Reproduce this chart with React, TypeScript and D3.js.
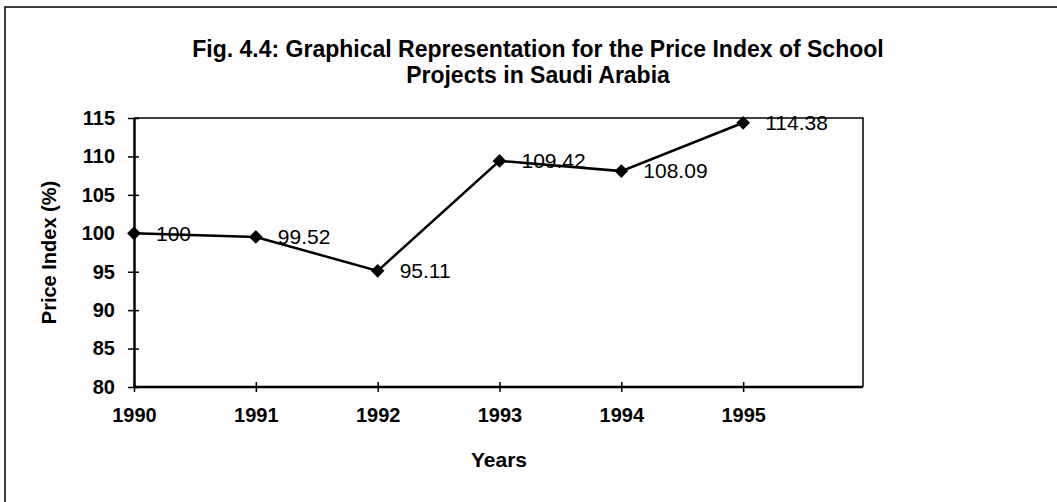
import React, { useRef, useEffect } from 'react';
import * as d3 from 'd3';

const years = [1990, 1991, 1992, 1993, 1994, 1995];
const priceIndex = [100, 99.52, 95.11, 109.42, 108.09, 114.38];
const valueLabels = ['100', '99.52', '95.11', '109.42', '108.09', '114.38'];
const yTicks = [80, 85, 90, 95, 100, 105, 110, 115];
const titleLines = [
  'Fig. 4.4: Graphical Representation for the Price Index of School',
  'Projects in Saudi Arabia',
];

const W = 1057;
const H = 502;
const FONT = '"Liberation Sans", Arial, sans-serif';

const App = () => {
  const svgRef = useRef<SVGSVGElement>(null);

  useEffect(() => {
    const svg = d3.select(svgRef.current);
    svg.selectAll('*').remove();

    const left = 134;
    const right = 863;
    const top = 118;
    const bottom = 387;

    const x = d3.scaleLinear().domain([1990, 1996]).range([left, right + 2]);
    const y = d3.scaleLinear().domain([80, 115]).range([bottom, top]);

    // outer chart border (only left and top survive in the scan)
    svg.append('path')
      .attr('d', `M5,${H} L5,7 L${W},7`)
      .attr('fill', 'none')
      .attr('stroke', '#000')
      .attr('stroke-width', 1.5);

    // title
    svg.append('g')
      .selectAll('text')
      .data(titleLines)
      .join('text')
      .attr('x', 538)
      .attr('y', (d, i) => 57 + i * 26)
      .attr('text-anchor', 'middle')
      .attr('font-family', FONT)
      .attr('font-weight', 'bold')
      .attr('font-size', 23)
      .text(d => d);

    // plot frame: top and right
    svg.append('path')
      .attr('d', `M${left},${top} L${right},${top} L${right},${bottom}`)
      .attr('fill', 'none')
      .attr('stroke', '#000')
      .attr('stroke-width', 1.5);

    // y axis
    const yAxis = d3.axisLeft(y)
      .tickValues(yTicks)
      .tickSizeInner(6)
      .tickSizeOuter(0)
      .tickPadding(13);
    const gy = svg.append('g')
      .attr('transform', `translate(${left},0)`)
      .call(yAxis);
    gy.select('.domain').attr('stroke-width', 2.5);
    gy.selectAll('.tick line')
      .attr('x1', 5)
      .attr('stroke-width', 1.5);
    gy.selectAll('.tick text')
      .attr('font-family', FONT)
      .attr('font-size', 20)
      .attr('font-weight', 'bold')
      .attr('fill', '#000');

    // x axis
    const xAxis = d3.axisBottom(x)
      .tickValues(years)
      .tickFormat(d3.format('d'))
      .tickSizeInner(5)
      .tickSizeOuter(0)
      .tickPadding(16);
    const gx = svg.append('g')
      .attr('transform', `translate(0,${bottom})`)
      .call(xAxis);
    gx.select('.domain')
      .attr('d', `M${left},0H${right}`)
      .attr('stroke-width', 2.5);
    gx.selectAll('.tick line')
      .attr('y1', -5)
      .attr('stroke-width', 1.5);
    gx.selectAll('.tick text')
      .attr('font-family', FONT)
      .attr('font-size', 20)
      .attr('font-weight', 'bold')
      .attr('fill', '#000');

    // axis titles
    svg.append('text')
      .attr('transform', `translate(56,${(top + bottom) / 2}) rotate(-90)`)
      .attr('text-anchor', 'middle')
      .attr('font-family', FONT)
      .attr('font-weight', 'bold')
      .attr('font-size', 20)
      .text('Price Index (%)');

    svg.append('text')
      .attr('x', 499)
      .attr('y', 467)
      .attr('text-anchor', 'middle')
      .attr('font-family', FONT)
      .attr('font-weight', 'bold')
      .attr('font-size', 21)
      .text('Years');

    // line
    const points = years.map((yr, i) => ({ yr, v: priceIndex[i], label: valueLabels[i] }));
    const lineGen = d3.line<{ yr: number; v: number }>()
      .x(d => x(d.yr))
      .y(d => y(d.v));

    svg.append('path')
      .datum(points)
      .attr('d', lineGen)
      .attr('fill', 'none')
      .attr('stroke', '#000')
      .attr('stroke-width', 2.5);

    // diamond markers
    const diamond = d3.symbol().type(d3.symbolDiamond2).size(120);
    svg.append('g')
      .selectAll('path')
      .data(points)
      .join('path')
      .attr('transform', d => `translate(${x(d.yr)},${y(d.v)})`)
      .attr('d', diamond)
      .attr('fill', '#000');

    // value labels
    svg.append('g')
      .selectAll('text')
      .data(points)
      .join('text')
      .attr('x', d => x(d.yr) + 22)
      .attr('y', d => y(d.v))
      .attr('dy', '0.35em')
      .attr('font-family', FONT)
      .attr('font-size', 21)
      .attr('fill', '#000')
      .text(d => d.label);
  }, []);

  return (
    <svg
      ref={svgRef}
      width={W}
      height={H}
      style={{ position: 'absolute', left: 0, top: 0, background: '#fff' }}
    />
  );
};

export default App;
